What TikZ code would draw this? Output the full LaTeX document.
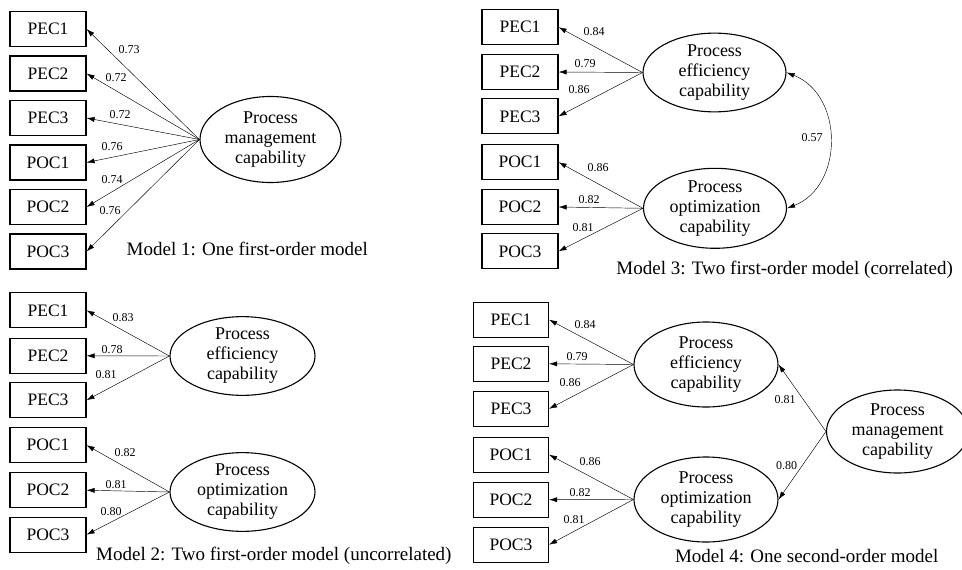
\documentclass[tikz,border=0pt]{standalone}
\usepackage{fontspec}
\setmainfont{Liberation Serif}
\usetikzlibrary{arrows.meta,shapes.geometric}
\begin{document}
\begin{tikzpicture}[x=1pt,y=-1pt,
  ind/.style={draw,line width=1.1pt,minimum width=76pt,minimum height=35pt,inner sep=0pt,
    font=\fontsize{17.5}{20}\selectfont},
  lat/.style={draw,ellipse,line width=1.1pt,inner sep=0pt,align=center,
    font=\fontsize{18}{20}\selectfont},
  load/.style={draw,line width=0.45pt,-{Latex[length=8pt,width=5pt]}},
  corr/.style={draw,line width=0.45pt,{Latex[length=8pt,width=5pt]}-{Latex[length=8pt,width=5pt]}},
  val/.style={inner sep=0pt,font=\fontsize{12}{12}\selectfont},
  modeltitle/.style={inner sep=0pt,font=\fontsize{19}{21}\selectfont}]
\useasboundingbox (0,0) rectangle (962,570);

% ---------- Model 1: one first-order factor ----------
\node[ind] (a1) at (48,29)    {PEC1};
\node[ind] (a2) at (48,73.5)  {PEC2};
\node[ind] (a3) at (48,118)   {PEC3};
\node[ind] (a4) at (48,162.5) {POC1};
\node[ind] (a5) at (48,207)   {POC2};
\node[ind] (a6) at (48,251.5) {POC3};
\node[lat,minimum width=141pt,minimum height=86pt] (am) at (270.5,139.5)
  {Process\\management\\capability};
\foreach \i in {1,...,6} \draw[load] (am.west) -- (a\i.east);
\node[val] (av1) at (129,50)  {0.73};
\node[val] (av2) at (116,78)  {0.72};
\node[val] (av3) at (120,115) {0.72};
\node[val] (av4) at (112,147) {0.76};
\node[val] (av5) at (112,180) {0.74};
\node[val] (av6) at (110,211) {0.76};
\node[modeltitle,anchor=west] (atitle) at (126.5,249) {Model 1: One first-order model};

% ---------- Model 2: two uncorrelated factors ----------
\node[ind] (b1) at (48,310.3) {PEC1};
\node[ind] (b2) at (48,355.8) {PEC2};
\node[ind] (b3) at (48,400.2) {PEC3};
\node[ind] (b4) at (48,445.2) {POC1};
\node[ind] (b5) at (48,490.2) {POC2};
\node[ind] (b6) at (48,534.7) {POC3};
\node[lat,minimum width=145pt,minimum height=78pt] (beff) at (242.5,356)
  {Process\\efficiency\\capability};
\node[lat,minimum width=145pt,minimum height=78pt] (bopt) at (242.5,492)
  {Process\\optimization\\capability};
\foreach \i in {1,2,3} \draw[load] (beff.west) -- (b\i.east);
\foreach \i in {4,5,6} \draw[load] (bopt.west) -- (b\i.east);
\node[val] (bv1) at (123,318) {0.83};
\node[val] (bv2) at (112,350) {0.78};
\node[val] (bv3) at (106,375) {0.81};
\node[val] (bv4) at (125,453) {0.82};
\node[val] (bv5) at (116,485) {0.81};
\node[val] (bv6) at (111,512) {0.80};
\node[modeltitle,anchor=west] (btitle) at (96,556) {Model 2: Two first-order model (uncorrelated)};

% ---------- Model 3: two correlated factors ----------
\node[ind] (c1) at (520,27.2)  {PEC1};
\node[ind] (c2) at (520,72)    {PEC2};
\node[ind] (c3) at (520,116.3) {PEC3};
\node[ind] (c4) at (520,162.2) {POC1};
\node[ind] (c5) at (520,207)   {POC2};
\node[ind] (c6) at (520,251.3) {POC3};
\node[lat,minimum width=143pt,minimum height=78pt] (ceff) at (714.5,72.5)
  {Process\\efficiency\\capability};
\node[lat,minimum width=143pt,minimum height=80pt] (copt) at (715,208.3)
  {Process\\optimization\\capability};
\foreach \i in {1,2,3} \draw[load] (ceff.west) -- (c\i.east);
\foreach \i in {4,5,6} \draw[load] (copt.west) -- (c\i.east);
\draw[corr] (ceff.east) .. controls (844,95) and (844,186) .. (copt.east);
\node[val] (cv1) at (594,32)  {0.84};
\node[val] (cv2) at (585,64)  {0.79};
\node[val] (cv3) at (579,90)  {0.86};
\node[val] (cv4) at (598,168) {0.86};
\node[val] (cv5) at (589,200) {0.82};
\node[val] (cv6) at (583,228) {0.81};
\node[val] (cvr) at (812,138) {0.57};
\node[modeltitle,anchor=east] (ctitle) at (953,270) {Model 3: Two first-order model (correlated)};

% ---------- Model 4: one second-order factor ----------
\node[ind,minimum width=75pt] (d1) at (511,319.7) {PEC1};
\node[ind,minimum width=75pt] (d2) at (511,363.8) {PEC2};
\node[ind,minimum width=75pt] (d3) at (511,408.8) {PEC3};
\node[ind,minimum width=75pt] (d4) at (511,454.7) {POC1};
\node[ind,minimum width=75pt] (d5) at (511,499.7) {POC2};
\node[ind,minimum width=75pt] (d6) at (511,544.7) {POC3};
\node[lat,minimum width=144pt,minimum height=85pt] (deff) at (706,364.5)
  {Process\\efficiency\\capability};
\node[lat,minimum width=144pt,minimum height=85pt] (dopt) at (706,499.5)
  {Process\\optimization\\capability};
\node[lat,minimum width=142pt,minimum height=83pt] (dman) at (897.5,431.5)
  {Process\\management\\capability};
\foreach \i in {1,2,3} \draw[load] (deff.west) -- (d\i.east);
\foreach \i in {4,5,6} \draw[load] (dopt.west) -- (d\i.east);
\draw[load] (dman.west) -- (deff.east);
\draw[load] (dman.west) -- (dopt.east);
\node[val] (dv1) at (585,325) {0.84};
\node[val] (dv2) at (577,357) {0.79};
\node[val] (dv3) at (570,383) {0.86};
\node[val] (dv4) at (590,462) {0.86};
\node[val] (dv5) at (580,493) {0.82};
\node[val] (dv6) at (574,520) {0.81};
\node[val] (dvh1) at (785,400) {0.81};
\node[val] (dvh2) at (786.5,465.5) {0.80};
\node[modeltitle,anchor=east] (dtitle) at (938.5,556.5) {Model 4: One second-order model};
\end{tikzpicture}
\end{document}
